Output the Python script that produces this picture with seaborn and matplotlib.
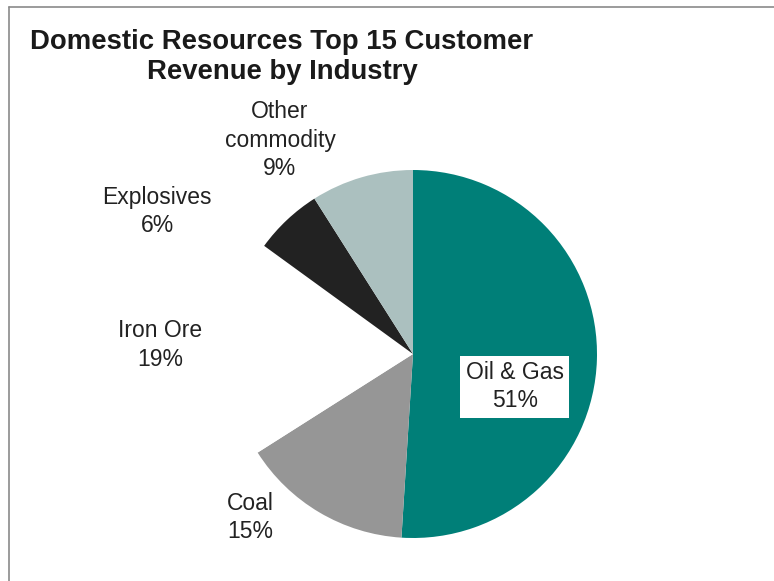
import matplotlib
matplotlib.use("Agg")
import matplotlib.pyplot as plt
from matplotlib.lines import Line2D
import seaborn as sns

industries = ["Oil & Gas", "Coal", "Iron Ore", "Explosives", "Other\ncommodity"]
shares = [51, 15, 19, 6, 9]
colors = ["#007f78", "#969696", "#ffffff", "#222222", "#abc0bf"]

sns.set_theme(style="white")
plt.rcParams["font.family"] = ["Liberation Sans", "DejaVu Sans"]

fig = plt.figure(figsize=(7.74, 5.81), dpi=100)
W, H = 774, 581
cx, cy, r = 413, 354, 184
ax = fig.add_axes([(cx - r) / W, (H - cy - r) / H, 2 * r / W, 2 * r / H])

ax.pie(shares, colors=colors, startangle=90, counterclock=False,
       radius=1.0, wedgeprops=dict(linewidth=0))
ax.set_xlim(-1, 1)
ax.set_ylim(-1, 1)
ax.set_aspect("equal")
ax.axis("off")

# label anchor points in pie units (radius = 1)
label_pos = [(0.554, -0.179), (-0.886, -0.891), (-1.375, 0.049),
             (-1.391, 0.772), (-0.723, 1.163)]
for name, val, (x, y) in zip(industries, shares, label_pos):
    kw = {}
    if name == "Oil & Gas":
        kw["bbox"] = dict(facecolor="white", edgecolor="none", pad=4)
    ax.text(x, y, f"{name}\n{val}%", ha="center", va="center",
            fontsize=16.5, color="#222222", linespacing=1.28,
            clip_on=False, **kw)

fig.text(282 / W, 1 - 57 / H, "Domestic Resources Top 15 Customer\nRevenue by Industry",
         ha="center", va="center", fontsize=19.8, fontweight="bold",
         color="#1a1a1a", linespacing=1.17)

# outer frame lines along top and left edges
fig.add_artist(Line2D([9 / W, 1], [1 - 7 / H, 1 - 7 / H], color="#8a8a8a", lw=1.2,
                      transform=fig.transFigure))
fig.add_artist(Line2D([9 / W, 9 / W], [0, 1 - 7 / H], color="#8a8a8a", lw=1.2,
                      transform=fig.transFigure))

fig.savefig("out.png", dpi=100, facecolor="white")
